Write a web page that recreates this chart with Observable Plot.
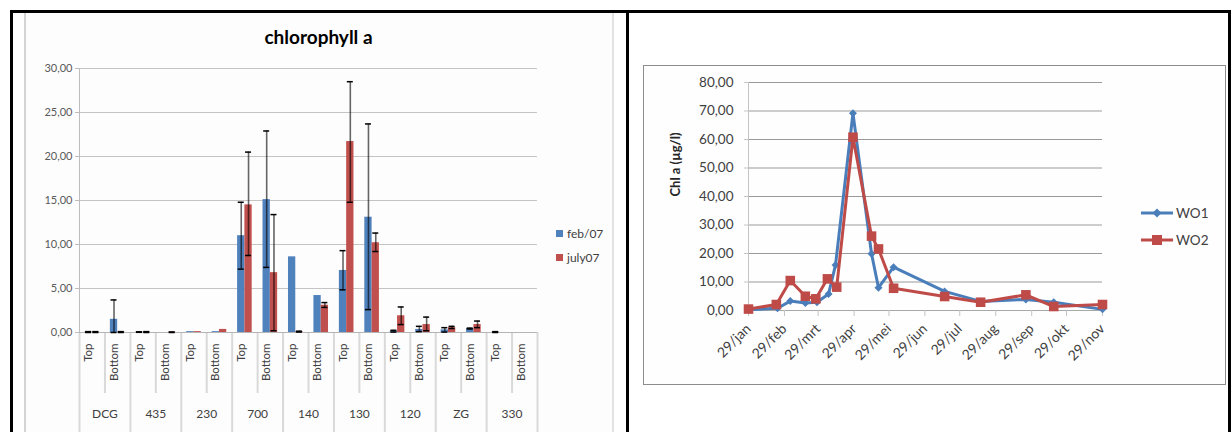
<!DOCTYPE html>
<html><head><meta charset="utf-8">
<script src="https://cdn.jsdelivr.net/npm/d3@7"></script>
<script src="https://cdn.jsdelivr.net/npm/@observablehq/plot@0.6"></script>
<style>
html,body{margin:0;padding:0;background:#fff;}
body{width:1231px;height:432px;overflow:hidden;position:relative;font-family:Lato,"Open Sans",sans-serif;}
.abs{position:absolute;}
.bl{background:#000;position:absolute;}
</style></head><body>
<div class="abs" style="left:24px;top:12px;width:586px;height:420px;background:#fdfdfd;border-left:2px solid #d4d4d4;border-right:2px solid #e2e2e2;"></div>
<div class="abs" style="left:643px;top:65px;width:581px;height:318px;background:#fefefe;border:1px solid #8c8c8c;"></div>
<div class="bl" style="left:10px;top:10px;width:1221px;height:2.5px;"></div>
<div class="bl" style="left:10px;top:10px;width:2.5px;height:422px;"></div>
<div class="bl" style="left:626px;top:10px;width:2.5px;height:422px;"></div>
<div class="bl" style="left:1228px;top:10px;width:2.5px;height:422px;"></div>
<div id="title" class="abs" style="left:25px;top:27px;width:587px;text-align:center;font-size:19px;font-weight:bold;color:#000;line-height:20px;"></div>
<div id="left" class="abs" style="left:25px;top:12px;"></div>
<div id="right" class="abs" style="left:644px;top:66px;"></div>
<div id="legL" class="abs" style="left:556px;top:221px;font-size:12px;color:#404040;"></div>
<div id="legR" class="abs" style="left:1140px;top:199px;font-size:13.5px;color:#404040;"></div>
<script>
// ---------- Left chart data ----------
const chartTitle = "chlorophyll a";
const sites = ["DCG","435","230","700","140","130","120","ZG","330"];
const levels = ["Top","Bottom"];
const seriesNames = ["feb/07","july07"];
const febMean  = [0.05,1.5, 0.05,0, 0.1,0.1, 11.0,15.1, 8.6,4.2, 7.05,13.1, 0.15,0.35, 0.3,0.45, 0.05,0];
const febLow   = [0,0, 0.02,null, null,null, 7.2,7.4, null,null, 4.85,2.6, 0.05,0.1, 0.05,0.4, 0,null];
const febHigh  = [0.1,3.7, 0.08,null, null,null, 14.8,22.9, null,null, 9.3,23.7, 0.25,0.7, 0.55,0.5, 0.1,null];
const julyMean = [0.05,0.05, 0.05,0.03, 0.1,0.35, 14.5,6.8, 0.1,3.1, 21.7,10.2, 1.9,0.9, 0.55,0.9, 0,0];
const julyLow  = [0,0, 0,0, null,null, 8.75,0.2, 0.05,2.85, 14.8,9.2, 0.9,0.2, 0.45,0.55, null,null];
const julyHigh = [0.1,0.1, 0.1,0.06, null,null, 20.5,13.4, 0.15,3.4, 28.5,11.3, 2.9,1.75, 0.7,1.3, null,null];
const barTicks = [0,5,10,15,20,25,30];

// ---------- Right chart data ----------
const lineYLabel = "Chl a (µg/l)";
const lineSeries = ["WO1","WO2"];
const wo1Dates  = ["2008-01-29","2008-02-23","2008-03-05","2008-03-18","2008-03-28","2008-04-07","2008-04-13","2008-04-28","2008-05-14","2008-05-20","2008-06-02","2008-07-16","2008-08-16","2008-09-24","2008-10-18","2008-11-29"];
const wo1Values = [0.3,0.8,3.3,2.6,2.9,5.8,16.0,69.2,19.9,8.0,15.2,6.7,3.2,3.9,2.9,0.4];
const wo2Dates  = ["2008-01-29","2008-02-22","2008-03-05","2008-03-18","2008-03-27","2008-04-06","2008-04-14","2008-04-28","2008-05-14","2008-05-20","2008-06-02","2008-07-16","2008-08-16","2008-09-24","2008-10-18","2008-11-29"];
const wo2Values = [0.5,2.1,10.5,5.0,4.1,11.1,8.2,60.8,26.1,21.6,7.8,4.9,2.9,5.5,1.4,2.1];
const lineTicks = [0,10,20,30,40,50,60,70,80];
const monthTickDates = ["2008-01-29","2008-02-29","2008-03-29","2008-04-29","2008-05-29","2008-06-29","2008-07-29","2008-08-29","2008-09-29","2008-10-29","2008-11-29"];
const monthTickLabels = ["29/jan","29/feb","29/mrt","29/apr","29/mei","29/jun","29/jul","29/aug","29/sep","29/okt","29/nov"];

const colFeb = "#4f81bd", colJuly = "#c0504d";
const colWO1 = "#4a7ebb", colWO2 = "#be4b48";
const fmt = d => d.toFixed(2).replace(".", ",");

document.getElementById("title").textContent = chartTitle;

// ---------- Left chart ----------
const cats = sites.flatMap(s => levels.map(l => s + "|" + l));
const rows = [];
cats.forEach((c, i) => {
  rows.push({cat: c, series: seriesNames[0], v: febMean[i], lo: febLow[i], hi: febHigh[i]});
  rows.push({cat: c, series: seriesNames[1], v: julyMean[i], lo: julyLow[i], hi: julyHigh[i]});
});
const feb = rows.filter(r => r.series === seriesNames[0]);
const jul = rows.filter(r => r.series === seriesNames[1]);
const LW = 587, LH = 420, lmL = 54, lmR = 75, lmT = 56, lmB = 100;
const bw = (LW - lmL - lmR) / cats.length;
const barW = 7.3, capW = 6;
const errFeb = feb.filter(r => r.lo != null);
const errJul = jul.filter(r => r.lo != null);
const inner = cats.filter(c => c.endsWith("|Bottom"));
const outer = cats.filter(c => c.endsWith("|Top"));

const left = Plot.plot({
  width: LW, height: LH,
  marginLeft: lmL, marginRight: lmR, marginTop: lmT, marginBottom: lmB,
  style: {background: "transparent", fontFamily: "Lato, 'Open Sans', sans-serif", overflow: "visible"},
  x: {type: "band", domain: cats, padding: 0, round: false, axis: null},
  y: {domain: [0, 30], axis: null},
  marks: [
    Plot.gridY(barTicks, {stroke: "#c4c4c4", strokeOpacity: 1}),
    Plot.ruleX(inner, {x: d => d, dx: -bw/2, y1: 0, y2: 0, insetBottom: -61, stroke: "#d9d9d9", strokeWidth: 2}),
    Plot.ruleX(outer, {x: d => d, dx: -bw/2, y1: 0, y2: 0, insetBottom: -100, stroke: "#d9d9d9", strokeWidth: 2}),
    Plot.ruleX([cats[cats.length-1]], {x: d => d, dx: bw/2, y1: 0, y2: 0, insetBottom: -100, stroke: "#d9d9d9", strokeWidth: 2}),
    Plot.ruleX([cats[0]], {x: d => d, dx: -bw/2, stroke: "#bdbdbd", strokeWidth: 1}),
    Plot.tickY(barTicks, {y: d => d, x: () => cats[0], insetLeft: -4, insetRight: bw, stroke: "#bdbdbd"}),
    Plot.barY(feb, {x: "cat", y: "v", fill: colFeb, insetLeft: bw/2 - barW, insetRight: bw/2}),
    Plot.barY(jul, {x: "cat", y: "v", fill: colJuly, insetLeft: bw/2, insetRight: bw/2 - barW}),
    Plot.ruleY([0], {stroke: "#b5b5b5"}),
    Plot.ruleX(errFeb, {x: "cat", y1: "lo", y2: "hi", dx: -barW/2, stroke: "#000", strokeOpacity: 0.6, strokeWidth: 1.6}),
    Plot.ruleX(errJul, {x: "cat", y1: "lo", y2: "hi", dx: barW/2, stroke: "#000", strokeOpacity: 0.6, strokeWidth: 1.6}),
    Plot.tickY(errFeb, {x: "cat", y: "hi", insetLeft: bw/2 - barW/2 - capW/2, insetRight: bw/2 + barW/2 - capW/2, stroke: "#000", strokeWidth: 1.5}),
    Plot.tickY(errFeb, {x: "cat", y: "lo", insetLeft: bw/2 - barW/2 - capW/2, insetRight: bw/2 + barW/2 - capW/2, stroke: "#000", strokeWidth: 1.5}),
    Plot.tickY(errJul, {x: "cat", y: "hi", insetLeft: bw/2 + barW/2 - capW/2, insetRight: bw/2 - barW/2 - capW/2, stroke: "#000", strokeWidth: 1.5}),
    Plot.tickY(errJul, {x: "cat", y: "lo", insetLeft: bw/2 + barW/2 - capW/2, insetRight: bw/2 - barW/2 - capW/2, stroke: "#000", strokeWidth: 1.5}),
    Plot.text(barTicks, {y: d => d, frameAnchor: "left", dx: -7, textAnchor: "end", text: fmt, fontSize: 11, fill: "#595959"}),
    Plot.text(cats, {x: d => d, text: d => d.split("|")[1], frameAnchor: "bottom", dy: 11, rotate: -90, textAnchor: "end", fontSize: 11.5, fill: "#404040"}),
    Plot.text(sites, {x: s => s + "|Top", text: s => s, frameAnchor: "bottom", dy: 85, dx: bw/2, fontSize: 12, fill: "#404040"})
  ]
});
document.getElementById("left").appendChild(left);

// legend left
document.getElementById("legL").innerHTML = seriesNames.map((n, i) =>
  `<div style="display:flex;align-items:center;height:24px;"><span style="display:inline-block;width:7px;height:7px;background:${[colFeb,colJuly][i]};margin-right:4px;"></span><span>${n}</span></div>`).join("");

// ---------- Right chart ----------
const parse = d3.utcParse("%Y-%m-%d");
const wo1 = wo1Dates.map((d, i) => ({date: parse(d), v: wo1Values[i]}));
const wo2 = wo2Dates.map((d, i) => ({date: parse(d), v: wo2Values[i]}));
const tickDates = monthTickDates.map(parse);
const RW = 581, RH = 318;
const right = Plot.plot({
  width: RW, height: RH,
  marginLeft: 104, marginRight: 123, marginTop: 16, marginBottom: 74,
  style: {background: "transparent", fontFamily: "Lato, 'Open Sans', sans-serif", overflow: "visible"},
  x: {type: "utc", domain: [tickDates[0], tickDates[tickDates.length-1]]},
  y: {domain: [0, 80]},
  marks: [
    Plot.gridY(lineTicks, {stroke: "#9a9a9a", strokeOpacity: 1}),
    Plot.ruleX([tickDates[0]], {stroke: "#c4c4c4"}),
    Plot.ruleY([0], {stroke: "#a8a8a8"}),
    Plot.axisY({ticks: lineTicks, tickFormat: fmt, tickSize: 4, tickPadding: 11, fontSize: 13.5, color: "#404040", stroke: "#c4c4c4", label: null}),
    Plot.axisX({ticks: tickDates, tickFormat: d => monthTickLabels[tickDates.findIndex(t => +t === +d)], tickRotate: -45, tickSize: 6, tickPadding: 10, fontSize: 14, color: "#404040", stroke: "#c4c4c4", label: null}),
    Plot.text([lineYLabel], {text: d => d, frameAnchor: "left", dx: -73, rotate: -90, fontSize: 13, fontWeight: "bold", fill: "#262626"}),
    Plot.line(wo1, {x: "date", y: "v", stroke: colWO1, strokeWidth: 3}),
    Plot.dot(wo1, {x: "date", y: "v", symbol: "diamond2", r: 3.6, fill: colWO1}),
    Plot.line(wo2, {x: "date", y: "v", stroke: colWO2, strokeWidth: 3}),
    Plot.dot(wo2, {x: "date", y: "v", symbol: "square", r: 5.4, fill: colWO2})
  ]
});
document.getElementById("right").appendChild(right);

// legend right
const legSym = [
  `<svg width="34" height="14"><line x1="1" y1="7" x2="33" y2="7" stroke="${colWO1}" stroke-width="3"/><path d="M17 2.5 L21.5 7 L17 11.5 L12.5 7Z" fill="${colWO1}"/></svg>`,
  `<svg width="34" height="14"><line x1="1" y1="7" x2="33" y2="7" stroke="${colWO2}" stroke-width="3"/><rect x="12" y="2" width="10" height="10" fill="${colWO2}"/></svg>`
];
document.getElementById("legR").innerHTML = lineSeries.map((n, i) =>
  `<div style="display:flex;align-items:center;height:27px;">${legSym[i]}<span style="margin-left:2px;">${n}</span></div>`).join("");
</script>
</body></html>
